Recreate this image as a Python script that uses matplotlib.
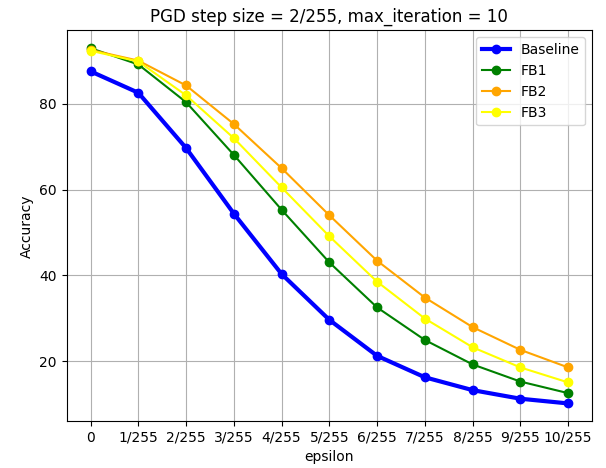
import numpy as np
import matplotlib
matplotlib.use("Agg")
import matplotlib.pyplot as plt

# epsilon steps
eps_labels = ["0", "1/255", "2/255", "3/255", "4/255", "5/255",
              "6/255", "7/255", "8/255", "9/255", "10/255"]

baseline = [87.6, 82.6, 69.7, 54.4, 40.3, 29.6, 21.2, 16.2, 13.2, 11.2, 10.1]
fb1 = [93.0, 89.2, 80.4, 68.1, 55.3, 43.0, 32.5, 24.9, 19.2, 15.2, 12.5]
fb2 = [92.6, 90.1, 84.3, 75.3, 65.0, 54.0, 43.4, 34.8, 27.9, 22.6, 18.5]
fb3 = [92.4, 89.9, 82.0, 72.0, 60.5, 49.1, 38.5, 29.9, 23.2, 18.5, 15.0]

x = np.arange(len(eps_labels))

fig, ax = plt.subplots(figsize=(6.06, 4.68), dpi=100)
ax.plot(x, baseline, marker='o', color='blue', linewidth=3, label='Baseline')
ax.plot(x, fb1, marker='o', color='green', label='FB1')
ax.plot(x, fb2, marker='o', color='orange', label='FB2')
ax.plot(x, fb3, marker='o', color='yellow', label='FB3')

ax.set_xticks(x)
ax.set_xticklabels(eps_labels)
ax.set_xlabel("epsilon")
ax.set_ylabel("Accuracy")
ax.set_title("PGD step size = 2/255, max_iteration = 10")
ax.grid(True)
ax.legend(loc='upper right')

plt.subplots_adjust(left=0.11, right=0.977, top=0.935, bottom=0.1)
plt.savefig("out.png")
